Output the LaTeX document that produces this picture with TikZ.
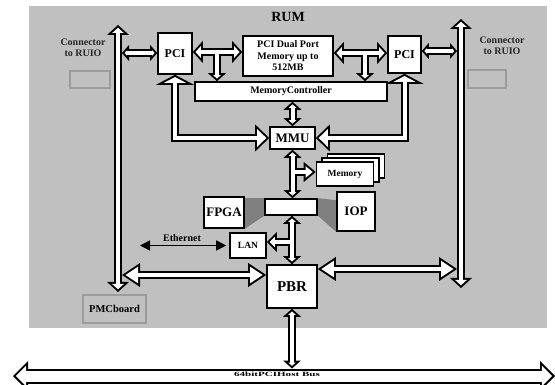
\documentclass[tikz,border=0pt]{standalone}
\usepackage{fontspec}
\setmainfont{Liberation Serif}
\usepackage{graphicx}
\usetikzlibrary{arrows.meta}
\pgfdeclarelayer{background}
\pgfdeclarelayer{blk}
\pgfdeclarelayer{wht}
\pgfsetlayers{background,blk,wht,main}
\definecolor{bggray}{HTML}{C0C0C0}
\definecolor{dkgray}{HTML}{808080}
\definecolor{lngray}{HTML}{9C9C9C}
\newcommand\fs[2]{\fontsize{#1}{#2}\selectfont\bfseries}
\newcommand\fat[3]{%
  \begin{pgfonlayer}{blk}\draw[fb,#1] #3;\end{pgfonlayer}%
  \begin{pgfonlayer}{wht}\draw[fw,#2] #3;\end{pgfonlayer}}
\tikzset{
  fb/.style={line width=8pt,draw=black,line join=miter},
  fw/.style={line width=4pt,draw=white,line join=miter},
  box/.style={draw,line width=1.6pt,fill=white,inner sep=0pt,align=center},
  kA/.tip={Triangle[width=20pt,length=10pt,line width=0pt]},
  wA/.tip={Triangle[width=10.3pt,length=5.2pt,line width=0pt]},
  kB/.tip={Triangle[width=22pt,length=10pt,line width=0pt]},
  wB/.tip={Triangle[width=11.7pt,length=5.3pt,line width=0pt]},
  kC/.tip={Triangle[width=18pt,length=8pt,line width=0pt]},
  wC/.tip={Triangle[width=7.5pt,length=3.3pt,line width=0pt]},
  kD/.tip={Triangle[width=38pt,length=10pt,line width=0pt]},
  wD/.tip={Triangle[width=21.8pt,length=5.7pt,line width=0pt]},
  kE/.tip={Triangle[width=27pt,length=14pt,line width=0pt]},
  wE/.tip={Triangle[width=17.6pt,length=9.1pt,line width=0pt]},
  kF/.tip={Triangle[width=30pt,length=15pt,line width=0pt]},
  wF/.tip={Triangle[width=20.3pt,length=10.2pt,line width=0pt]},
  kG/.tip={Triangle[width=16pt,length=7pt,line width=0pt]},
  wG/.tip={Triangle[width=5.4pt,length=2.3pt,line width=0pt]},
  kH/.tip={Triangle[width=24pt,length=18pt,line width=0pt]},
  wH/.tip={Triangle[width=16.5pt,length=12.4pt,line width=0pt]},
  kI/.tip={Triangle[width=20pt,length=12pt,line width=0pt]},
  wI/.tip={Triangle[width=11.5pt,length=6.9pt,line width=0pt]},
  lbl/.style={inner sep=0pt,align=center},
  grayrect/.style={draw=lngray,line width=1.5pt,inner sep=0pt}
}
\begin{document}
\begin{tikzpicture}[x=1pt,y=-1pt]
\useasboundingbox (0,0) rectangle (555,385);
\begin{pgfonlayer}{background}
\fill[bggray] (29,6) rectangle (547,328);
\end{pgfonlayer}

% labels
\node[lbl,font=\fs{14}{16}] (rum) at (288,17) {RUM};
\node[lbl,font=\fs{10}{11},text=black!85] (cl) at (83,48) {Connector\\to RUIO};
\node[lbl,font=\fs{10}{11},text=black!85] (cr) at (502,46) {Connector\\to RUIO};
\node[grayrect,minimum width=40pt,minimum height=17pt] (gl) at (90,79.5) {};
\node[grayrect,minimum width=38pt,minimum height=18pt] (gr) at (487,79) {};

% boxes
\node[box,minimum width=34pt,minimum height=41pt,font=\fs{12}{14}] (pcil) at (175,53.5) {PCI};
\node[box,minimum width=33pt,minimum height=37pt,font=\fs{12}{14}] (pcir) at (404.5,54.5) {PCI};
\node[box,minimum width=90pt,minimum height=40pt,font=\fs{10}{11.5}] (dual) at (288,56) {PCI Dual Port\\Memory up to\\512MB};
\node[box,minimum width=192pt,minimum height=19pt,font=\fs{10}{12}] (mc) at (291,91.5) {MemoryController};
\node[box,minimum width=45pt,minimum height=22pt,font=\fs{13}{15}] (mmu) at (292.5,138) {MMU};
\node[box,minimum width=57pt,minimum height=24pt] (mem3) at (356,166) {};
\node[box,minimum width=57pt,minimum height=24pt] (mem2) at (350.5,170) {};
\node[box,minimum width=57pt,minimum height=24pt,font=\fs{9.5}{11}] (mem) at (345,174) {Memory};
\node[box,minimum width=52pt,minimum height=16pt] (mid) at (291,207) {};
\node[box,minimum width=40pt,minimum height=31pt,font=\fs{13}{15}] (fpga) at (224,212.5) {FPGA};
\node[box,minimum width=38pt,minimum height=39pt,font=\fs{13}{15}] (iop) at (356,211.5) {IOP};
\node[box,minimum width=36pt,minimum height=25pt,font=\fs{9.5}{11}] (lan) at (248,245.5) {LAN};
\node[box,minimum width=50pt,minimum height=43pt,font=\fs{15}{17}] (pbr) at (292,286.5) {PBR};
\node[draw=lngray,line width=2pt,fill=bggray,inner sep=0pt,minimum width=63pt,minimum height=28pt,font=\fs{10.5}{12}] (pmc) at (114.5,309) {PMCboard};
\node[lbl,font=\fs{10}{12}] (eth) at (182,238) {Ethernet};

% gray bands
\begin{pgfonlayer}{background}
\fill[dkgray] (fpga.east |- mid.north) -- (mid.north west) -- (mid.south west) -- (fpga.south east) -- cycle;
\fill[dkgray] (mid.north east) -- ([yshift=-9pt]iop.north west) -- (iop.south west) -- (mid.south east) -- cycle;
\end{pgfonlayer}

% coordinates
\coordinate (lbt) at (118,25);
\coordinate (lbb) at (118,292);
\coordinate (rbt) at (461,19);
\coordinate (rbb) at (461,288);
\coordinate (lp) at (122,53);
\coordinate (rp) at (457,51);
\coordinate (j1) at (217,52);
\coordinate (j2) at (365,53);
\coordinate (jm) at (292.5,172);
\coordinate (jl) at (292,242);
\coordinate (la) at (122,275);
\coordinate (ra) at (457,269);
\coordinate (hb) at (292,368.5);
\coordinate (h1) at (13,376);
\coordinate (h2) at (555,376);
\coordinate (et) at (140,245.5);

% fat arrows
\fat{kB-kB}{wB-wB,shorten <=2.7pt,shorten >=2.7pt}{(lbt) -- (lbb)}
\fat{kB-kB}{wB-wB,shorten <=2.7pt,shorten >=2.7pt}{(rbt) -- (rbb)}
\fat{kG-kG}{wG-wG,shorten <=2.66pt,shorten >=2.66pt}{(lp) -- (lp -| pcil.west)}
\fat{kG-kG}{wG-wG,shorten <=2.66pt,shorten >=2.66pt}{(rp -| pcir.east) -- (rp)}
\fat{kB-kB}{wB-wB,shorten <=2.7pt,shorten >=2.7pt}{(j1 -| pcil.east) -- (j1 -| dual.west)}
\fat{-kC}{-wC,shorten >=2.68pt}{(j1) -- (j1 |- mc.north)}
\fat{kB-kB}{wB-wB,shorten <=2.7pt,shorten >=2.7pt}{(j2 -| dual.east) -- (j2 -| pcir.west)}
\fat{-kC}{-wC,shorten >=2.68pt}{(j2) -- (j2 |- mc.north)}
\fat{kC-kC}{wC-wC,shorten <=2.68pt,shorten >=2.68pt}{(mmu.north |- mc.south) -- (mmu.north)}
\fat{kD-kE}{wD-wE,shorten <=2.26pt,shorten >=2.88pt}{(pcil.south) |- (mmu.west)}
\fat{kD-kE}{wD-wE,shorten <=2.26pt,shorten >=2.88pt}{(pcir.south) |- (mmu.east)}
\fat{kC-kC}{wC-wC,shorten <=2.68pt,shorten >=2.68pt}{(mmu.south) -- (mmu.south |- mid.north)}
\fat{-kI}{-wI,shorten >=3.1pt}{(jm) -- (jm -| mem.west)}
\fat{kC-kC}{wC-wC,shorten <=2.68pt,shorten >=2.68pt}{(pbr.north |- mid.south) -- (pbr.north)}
\fat{-kA}{-wA,shorten >=2.83pt}{(jl) -- (jl -| lan.east)}
\fat{kH-kH}{wH-wH,shorten <=3.6pt,shorten >=3.6pt}{(la) -- (la -| pbr.west)}
\fat{kH-kH}{wH-wH,shorten <=3.6pt,shorten >=3.6pt}{(ra -| pbr.east) -- (ra)}
\fat{kC-kC}{wC-wC,shorten <=2.68pt,shorten >=2.68pt}{(pbr.south) -- (hb)}
\fat{kF-kF,line width=15pt}{wF-wF,line width=11pt,shorten <=2.83pt,shorten >=2.83pt}{(h1) -- (h2)}

% ethernet
\draw[line width=1.6pt,{Triangle[width=10pt,length=10pt]}-{Triangle[width=10pt,length=10pt]},shorten >=3pt] (et) -- (lan.west);

\node[lbl,font=\fs{6.5}{7}] (hl) at (277,374.5) {\scalebox{1.7}[1]{64bitPCIHost Bus}};
\end{tikzpicture}
\end{document}
